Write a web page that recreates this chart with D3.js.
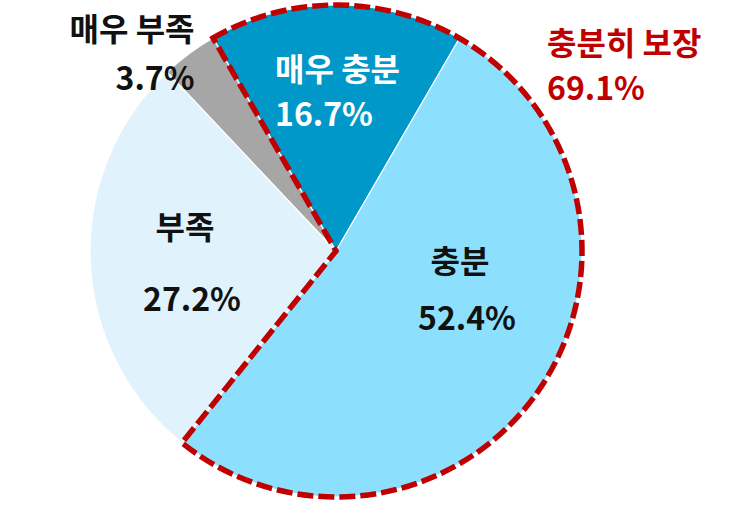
<!DOCTYPE html>
<html>
<head>
<meta charset="utf-8">
<script src="https://cdn.jsdelivr.net/npm/d3@7"></script>
<style>
  body { margin: 0; background: #fff; }
  text { font-family: "Noto Sans CJK KR", "Noto Sans", sans-serif; font-weight: bold; }
</style>
</head>
<body>
<div id="chart"></div>
<script>
/* DATA */
var categories = ["매우 충분", "충분", "부족", "매우 부족"];
var values = [16.7, 52.4, 27.2, 3.7];
var colors = ["#0098c9", "#8ce0fe", "#e0f3fd", "#a6a6a6"];
var groupLabel = "충분히 보장";
var groupValue = 69.1;

/* CONSTANTS */
var width = 745,
    height = 515;
var cx = 336, cy = 251, radius = 246;
var startDeg = -30;
var fontSize = 32;

// label spots: name line and value line, one per category
var labelPos = [
  { x: 275, y: 67,  x2: 275, y2: 112, anchor: "start",  fill: "#fff" },
  { x: 460, y: 259, x2: 467, y2: 316, anchor: "middle", fill: "#111" },
  { x: 185, y: 225, x2: 192, y2: 297, anchor: "middle", fill: "#111" },
  { x: 132, y: 27,  x2: 155, y2: 76,  anchor: "middle", fill: "#111" }
];

var pct = d3.format(".1f");

var svg = d3.select("#chart").append("svg")
  .attr("width", width)
  .attr("height", height);

var g = svg.append("g")
  .attr("transform", "translate(" + cx + "," + cy + ")");

var start = startDeg * Math.PI / 180;
var pie = d3.pie()
  .sort(null)
  .value(function(d) { return d; })
  .startAngle(start)
  .endAngle(start + 2 * Math.PI);

var arc = d3.arc().innerRadius(0).outerRadius(radius);
var arcs = pie(values);

// slices
g.selectAll(".slice")
  .data(arcs)
  .enter().append("path")
  .attr("class", "slice")
  .attr("d", arc)
  .attr("fill", function(d, i) { return colors[i]; })
  .attr("stroke", "#fff")
  .attr("stroke-width", 1.2);

// dashed outline round the first two slices
g.append("path")
  .attr("d", arc({ startAngle: arcs[0].startAngle, endAngle: arcs[1].endAngle }))
  .attr("fill", "none")
  .attr("stroke", "#c00000")
  .attr("stroke-width", 5.5)
  .attr("stroke-dasharray", "16,5")
  .attr("stroke-linejoin", "miter");

// two-line label in one text element
function addLabel(x, y, x2, y2, line1, line2, anchor, fill) {
  var t = svg.append("text")
    .attr("x", x)
    .attr("y", y)
    .attr("text-anchor", anchor)
    .attr("dominant-baseline", "central")
    .attr("fill", fill)
    .style("font-size", fontSize + "px");
  t.append("tspan").attr("x", x).text(line1);
  t.append("tspan").attr("x", x2).attr("dy", y2 - y).text(line2);
}

categories.forEach(function(c, i) {
  var p = labelPos[i];
  addLabel(p.x, p.y, p.x2, p.y2, c, pct(values[i]) + "%", p.anchor, p.fill);
});

// group label
addLabel(547, 41, 547, 86, groupLabel, pct(groupValue) + "%", "start", "#c00000");
</script>
</body>
</html>
